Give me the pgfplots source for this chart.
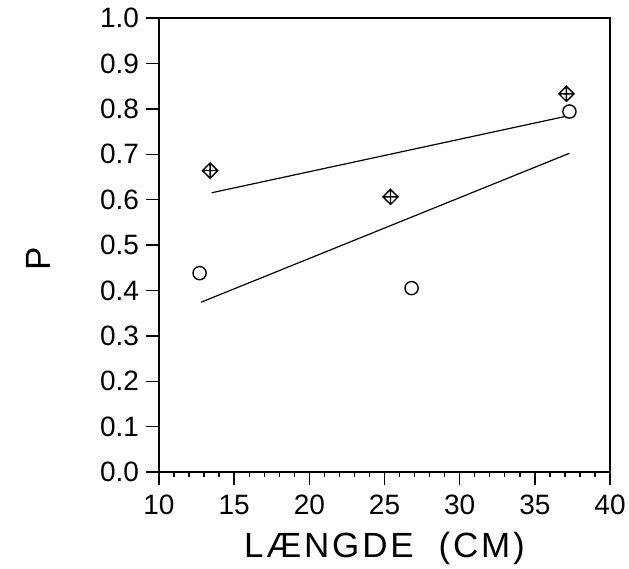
\documentclass[border=0pt]{standalone}
\usepackage{fontspec}
\setmainfont{Liberation Sans}
\usepackage{pgfplots}
\pgfplotsset{compat=1.18}
\pgfdeclareplotmark{diamondplus}{%
  \pgfpathmoveto{\pgfqpoint{0pt}{\pgfplotmarksize}}%
  \pgfpathlineto{\pgfqpoint{\pgfplotmarksize}{0pt}}%
  \pgfpathlineto{\pgfqpoint{0pt}{-\pgfplotmarksize}}%
  \pgfpathlineto{\pgfqpoint{-\pgfplotmarksize}{0pt}}%
  \pgfpathclose
  \pgfpathmoveto{\pgfqpoint{0pt}{\pgfplotmarksize}}%
  \pgfpathlineto{\pgfqpoint{0pt}{-\pgfplotmarksize}}%
  \pgfpathmoveto{\pgfqpoint{\pgfplotmarksize}{0pt}}%
  \pgfpathlineto{\pgfqpoint{-\pgfplotmarksize}{0pt}}%
  \pgfusepathqstroke}
\begin{document}
\begin{tikzpicture}
\begin{axis}[
  name=ax,
  scale only axis,
  width=225.5pt, height=227pt,
  xmin=10, xmax=40, ymin=0, ymax=1,
  xtick={10,15,...,40},
  ytick={0,0.1,...,1.0},
  minor x tick num=4,
  tick align=outside,
  tick pos=left,
  major tick length=6.5pt,
  minor tick length=2.5pt,
  axis line style={line width=0.8pt},
  every tick/.style={black, line width=0.7pt},
  /pgf/number format/assume math mode=true,
  yticklabel style={/pgf/number format/fixed, /pgf/number format/fixed zerofill, /pgf/number format/precision=1},
  ticklabel style={font=\fontsize{14}{16}\selectfont},
  xticklabel style={yshift=-1.5pt},
  xlabel={\fontsize{17.5}{20}\selectfont\addfontfeature{LetterSpace=8}LÆNGDE\ \ (CM)},
  ylabel={\fontsize{17.5}{20}\selectfont P},
  every axis y label/.style={at={(axis description cs:-0.268,0.47)}, rotate=90, anchor=center},
  every axis x label/.style={at={(axis description cs:0.5,0)}, anchor=north, yshift=-26.5pt},
]
\addplot[only marks, mark=diamondplus, mark size=3.8pt, line width=0.7pt] coordinates {
  (13.4,0.664) (25.4,0.606) (37.1,0.833)
};
\addplot[only marks, mark=o, mark size=3.3pt, line width=0.7pt] coordinates {
  (12.7,0.438) (26.8,0.405) (37.3,0.794)
};
\addplot[no marks, line width=0.6pt] coordinates {(13.5,0.615) (37.0,0.783)};
\addplot[no marks, line width=0.6pt] coordinates {(12.8,0.374) (37.3,0.702)};
\end{axis}
\pgfresetboundingbox
\path[use as bounding box] ([shift={(-79.5pt,-48pt)}]ax.south west) rectangle ([shift={(9.5pt,9pt)}]ax.north east);
\end{tikzpicture}
\end{document}
